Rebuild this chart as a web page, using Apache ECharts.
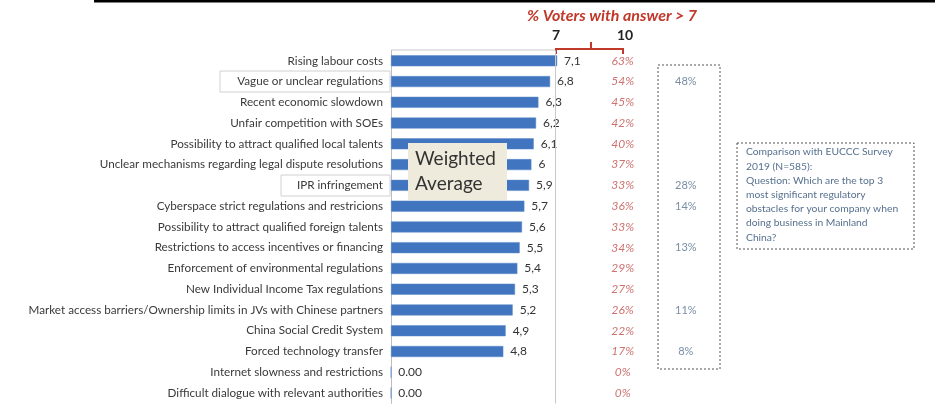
<!DOCTYPE html>
<html>
<head>
<meta charset="utf-8">
<script src="https://cdn.jsdelivr.net/npm/echarts@6/dist/echarts.min.js"></script>
<style>
html,body{margin:0;padding:0;background:#fff;}
#chart{width:935px;height:405px;}
</style>
</head>
<body>
<div id="chart"></div>
<script>
const categories = [
  'Rising labour costs',
  'Vague or unclear regulations',
  'Recent economic slowdown',
  'Unfair competition with SOEs',
  'Possibility to attract qualified local talents',
  'Unclear mechanisms regarding legal dispute resolutions',
  'IPR infringement',
  'Cyberspace strict regulations and restricions',
  'Possibility to attract qualified foreign talents',
  'Restrictions to access incentives or financing',
  'Enforcement of environmental regulations',
  'New Individual Income Tax regulations',
  'Market access barriers/Ownership limits in JVs with Chinese partners',
  'China Social Credit System',
  'Forced technology transfer',
  'Internet slowness and restrictions',
  'Difficult dialogue with relevant authorities'
];
const weightedAverage = [7.1, 6.8, 6.3, 6.2, 6.1, 6, 5.9, 5.7, 5.6, 5.5, 5.4, 5.3, 5.2, 4.9, 4.8, 0, 0];
const votersAbove7 = [63, 54, 45, 42, 40, 37, 33, 36, 33, 34, 29, 27, 26, 22, 17, 0, 0];
const euccc2019 = [null, 48, null, null, null, null, 28, 14, null, 13, null, null, 11, null, 8, null, null];
const headerTicks = ['7', '10'];

const PCT_X = 9.9;       // column position on value scale
const EU_X = 12.6;       // comparison column position

const chart = echarts.init(document.getElementById('chart'), null, {renderer: 'canvas'});
const FONT = 'Lato, "Open Sans", sans-serif';

function fmtAvg(v) {
  if (v === 0) return '0.00';
  return String(v).replace('.', ',');
}

const option = {
  backgroundColor: '#ffffff',
  animation: false,
  grid: {left: 391, top: 50.4, width: 544, height: 353},
  xAxis: {
    type: 'value', min: 0, max: 23.25, show: false
  },
  yAxis: {
    type: 'category', data: categories, inverse: true,
    axisLine: {show: true, lineStyle: {color: '#bdbdbd', width: 1}},
    axisTick: {show: false},
    axisLabel: {color: '#3a3a3a', fontSize: 11.7, fontFamily: FONT, margin: 8},
    splitLine: {show: false}
  },
  series: [
    {
      type: 'bar',
      data: weightedAverage,
      barWidth: 11,
      itemStyle: {color: '#4275bf', borderColor: '#5b8ac9', borderWidth: 0.5},
      label: {
        show: true, position: 'right', distance: 7,
        color: '#333', fontSize: 12, fontFamily: FONT,
        formatter: p => fmtAvg(p.value)
      },
      markLine: {
        silent: true, symbol: 'none',
        lineStyle: {color: '#c8c8c8', type: 'solid', width: 1},
        label: {show: false},
        data: [{xAxis: 7}]
      },
      z: 3
    },
    {
      type: 'scatter',
      data: votersAbove7.map((v, i) => [PCT_X, i, v]),
      symbolSize: 0,
      label: {
        show: true, position: 'inside',
        color: '#c0504d', fontSize: 12, fontStyle: 'italic', fontFamily: FONT,
        formatter: p => p.value[2] + '%'
      },
      z: 4
    },
    {
      type: 'scatter',
      data: euccc2019.map((v, i) => v === null ? null : [EU_X, i, v]).filter(d => d),
      symbolSize: 0,
      label: {
        show: true, position: 'inside',
        color: '#56708f', fontSize: 11, fontFamily: FONT,
        formatter: p => p.value[2] + '%'
      },
      z: 4
    }
  ],
  graphic: [
    {type: 'rect', shape: {x: 94, y: 0, width: 841, height: 2.5}, style: {fill: '#000'}},
    {type: 'line', shape: {x1: 391, y1: 50, x2: 556, y2: 50}, style: {stroke: '#c8c8c8', lineWidth: 1}},
    {type: 'rect', shape: {x: 220, y: 71, width: 170, height: 21}, style: {fill: 'rgba(0,0,0,0)', stroke: '#d0d0d0', lineWidth: 1}},
    {type: 'rect', shape: {x: 281, y: 175, width: 109, height: 21}, style: {fill: 'rgba(0,0,0,0)', stroke: '#d0d0d0', lineWidth: 1}},
    {type: 'text', left: 527, top: 8, style: {text: '% Voters with answer > 7', fill: '#c0392b', font: 'italic bold 16px ' + FONT}},
    {type: 'text', x: 556, y: 35, style: {text: headerTicks[0], fill: '#222', font: 'bold 14px ' + FONT, textAlign: 'center', textVerticalAlign: 'middle'}},
    {type: 'text', x: 625, y: 35, style: {text: headerTicks[1], fill: '#222', font: 'bold 14px ' + FONT, textAlign: 'center', textVerticalAlign: 'middle'}},
    {type: 'polyline', shape: {points: [[556, 54], [556, 49], [623, 49], [623, 54]]}, style: {stroke: '#c0392b', lineWidth: 2, fill: null}},
    {type: 'line', shape: {x1: 591, y1: 49, x2: 591, y2: 42}, style: {stroke: '#c0392b', lineWidth: 2}},
    {type: 'rect', shape: {x: 658, y: 65, width: 62, height: 304}, style: {fill: 'rgba(0,0,0,0)', stroke: '#555', lineWidth: 1, lineDash: [2, 2]}, z: 1},
    {type: 'rect', shape: {x: 737, y: 143, width: 177, height: 106}, style: {fill: '#fff', stroke: '#555', lineWidth: 1, lineDash: [2, 2]}, z: 5},
    {type: 'text', left: 746, top: 145, z: 6, style: {
      text: 'Comparison with EUCCC Survey\n2019 (N=585):\nQuestion: Which are the top 3\nmost significant regulatory\nobstacles for your company when\ndoing business in Mainland\nChina?',
      fill: '#56708f', font: '10.3px ' + FONT, lineHeight: 14.2
    }},
    {type: 'rect', shape: {x: 408, y: 143, width: 99, height: 57}, style: {fill: '#eeeadc'}, z: 10},
    {type: 'text', left: 415, top: 146, z: 11, style: {text: 'Weighted\nAverage', fill: '#333', font: '19px ' + FONT, lineHeight: 25}}
  ]
};
chart.setOption(option);
</script>
</body>
</html>
